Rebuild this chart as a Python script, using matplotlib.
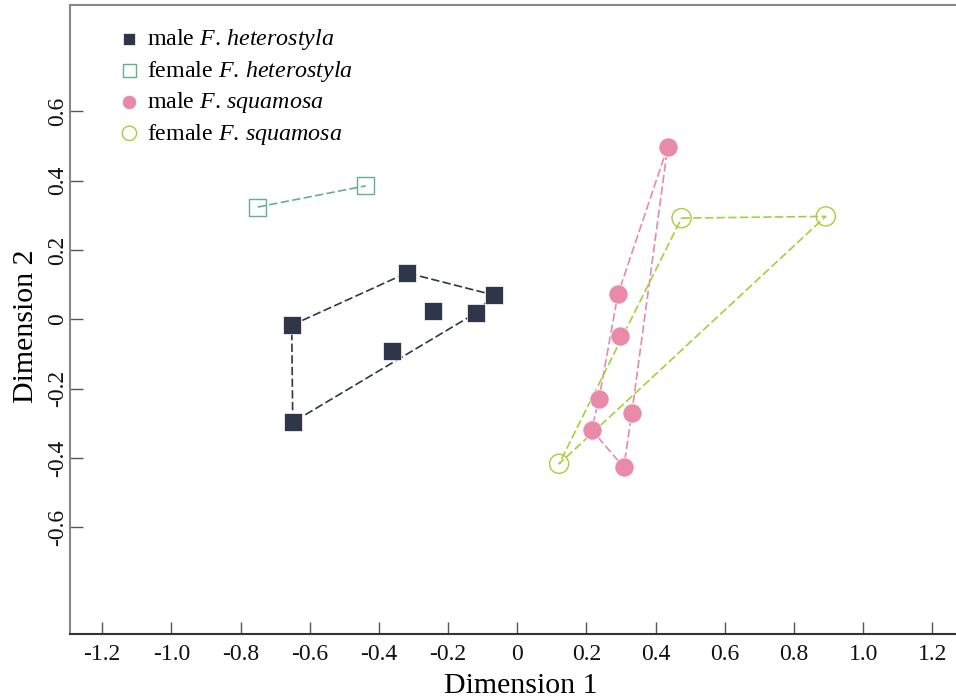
import matplotlib.pyplot as plt

plt.rcParams['font.family'] = ['Liberation Serif', 'DejaVu Serif']
plt.rcParams['mathtext.fontset'] = 'custom'
plt.rcParams['mathtext.rm'] = 'Liberation Serif'
plt.rcParams['mathtext.it'] = 'Liberation Serif:italic'
plt.rcParams['axes.unicode_minus'] = False

# MDS coordinates
male_het_x = [-0.652, -0.319, -0.068, -0.244, -0.120, -0.363, -0.649]
male_het_y = [-0.017, 0.134, 0.070, 0.024, 0.018, -0.092, -0.297]
male_het_hull = [0, 1, 2, 4, 6, 0]

female_het_x = [-0.750, -0.438]
female_het_y = [0.324, 0.385]

male_squ_x = [0.435, 0.291, 0.296, 0.236, 0.331, 0.215, 0.308]
male_squ_y = [0.498, 0.072, -0.049, -0.231, -0.271, -0.319, -0.427]
male_squ_hull = [0, 1, 3, 5, 6, 4, 0]

female_squ_x = [0.475, 0.892, 0.121]
female_squ_y = [0.292, 0.297, -0.417]
female_squ_hull = [0, 1, 2, 0]

xticks = [-1.2, -1.0, -0.8, -0.6, -0.4, -0.2, 0, 0.2, 0.4, 0.6, 0.8, 1.0, 1.2]
xticklabels = ['-1.2', '-1.0', '-0.8', '-0.6', '-0.4', '-0.2', '0',
               '0.2', '0.4', '0.6', '0.8', '1.0', '1.2']
yticks = [-0.6, -0.4, -0.2, 0, 0.2, 0.4, 0.6]
yticklabels = ['-0.6', '-0.4', '-0.2', '0', '0.2', '0.4', '0.6']

c_dark = '#2f3649'
c_teal = '#62b08f'
c_pink = '#e98aa9'
c_lime = '#a6cf3e'

fig = plt.figure(figsize=(9.56, 7.0), dpi=100)
ax = fig.add_axes([0.0732, 0.0943, 0.9263, 0.8986])

# hull outlines
dash = (5, 2)
ax.plot([male_het_x[i] for i in male_het_hull], [male_het_y[i] for i in male_het_hull],
        ls='--', dashes=dash, color=c_dark, lw=1.2, zorder=1)
ax.plot(female_het_x, female_het_y, ls='--', dashes=dash, color=c_teal, lw=1.2, zorder=1)
ax.plot([male_squ_x[i] for i in male_squ_hull], [male_squ_y[i] for i in male_squ_hull],
        ls='--', dashes=dash, color=c_pink, lw=1.2, zorder=1)
ax.plot([female_squ_x[i] for i in female_squ_hull], [female_squ_y[i] for i in female_squ_hull],
        ls='--', dashes=dash, color=c_lime, lw=1.2, zorder=1)

# points
ax.scatter(male_het_x, male_het_y, marker='s', s=150, color=c_dark, edgecolors='white',
           linewidths=0.5, zorder=3, label=r'male $F.\,heterostyla$')
ax.scatter(female_het_x, female_het_y, marker='s', s=150, facecolors='none',
           edgecolors=c_teal, linewidths=1.0, zorder=3, label=r'female $F.\,heterostyla$')
ax.scatter(male_squ_x, male_squ_y, marker='o', s=190, color=c_pink, edgecolors='white',
           linewidths=0.5, zorder=3, label=r'male $F.\,squamosa$')
ax.scatter(female_squ_x, female_squ_y, marker='o', s=190, facecolors='none',
           edgecolors=c_lime, linewidths=1.0, zorder=3, label=r'female $F.\,squamosa$')

ax.set_xlim(-1.293, 1.267)
ax.set_ylim(-0.908, 0.907)
ax.set_xticks(xticks)
ax.set_xticklabels(xticklabels)
ax.set_yticks(yticks)
ax.set_yticklabels(yticklabels, rotation=90, va='center')

ax.tick_params(direction='in', length=9, width=1, labelsize=17, labelcolor='#111111')
ax.tick_params(axis='x', pad=7, color='#555555')
ax.tick_params(axis='y', pad=1, color='#555555')

ax.spines['right'].set_visible(False)
ax.spines['top'].set_color('#888888')
ax.spines['left'].set_color('#888888')
ax.spines['bottom'].set_color('#333333')
for s in ax.spines.values():
    s.set_linewidth(1.5)

ax.set_xlabel('Dimension 1', fontsize=21.5, va='center')
ax.set_ylabel('Dimension 2', fontsize=21.5, va='center')
ax.xaxis.set_label_coords(0.509, -0.083)
ax.yaxis.set_label_coords(-0.0497, 0.49)

leg = ax.legend(loc='upper left', bbox_to_anchor=(0.04, 0.98), frameon=False,
                fontsize=17.3, handletextpad=0.15, labelspacing=0.27, handlelength=1.2,
                markerscale=0.75, borderaxespad=0)

fig.savefig('out.png', dpi=100)
